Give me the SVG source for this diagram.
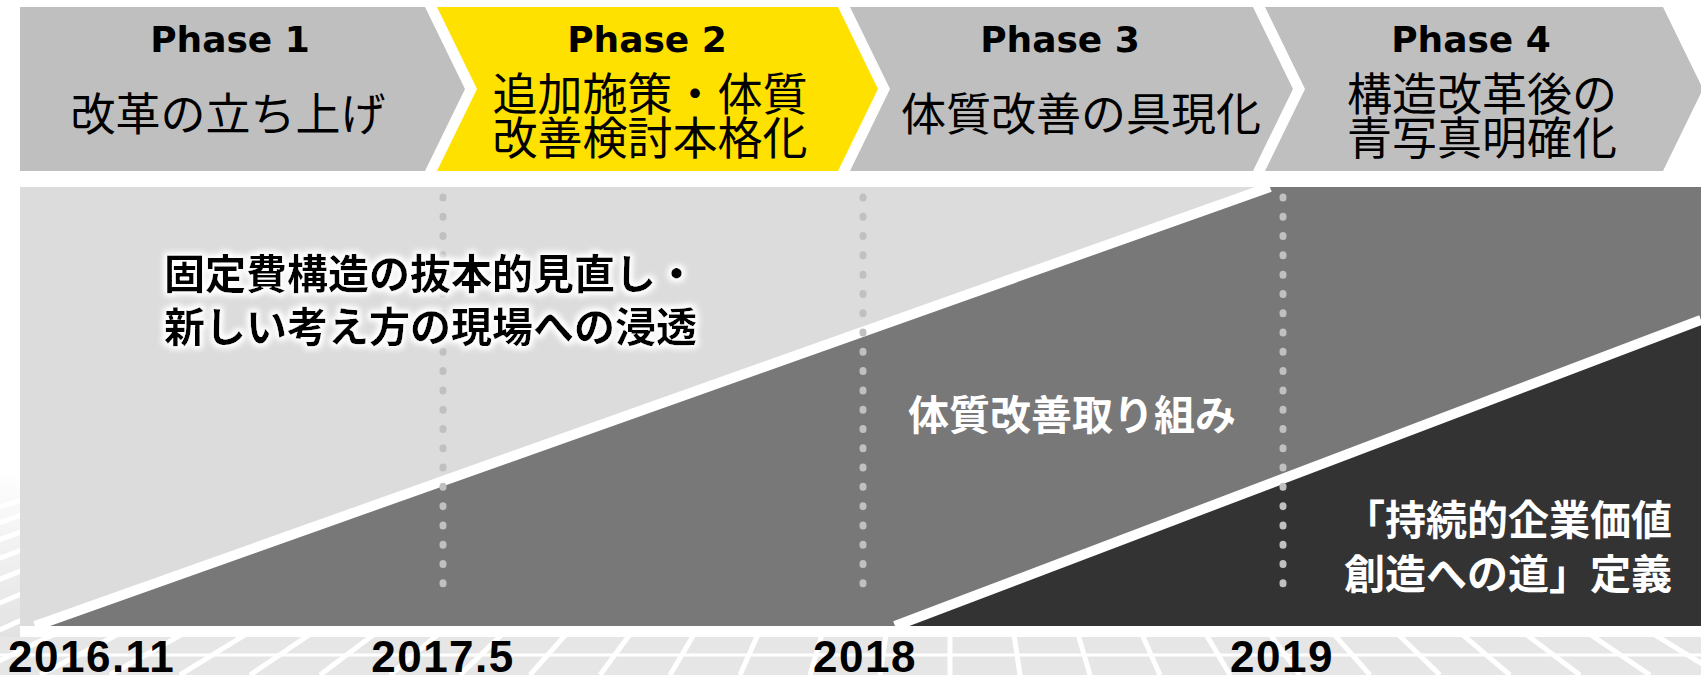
<svg xmlns="http://www.w3.org/2000/svg" width="1701" height="675" viewBox="0 0 1701 675">
<style>
.chev{fill:#bfbfbf}
.chev-hl{fill:#ffe100}
.ph{font-family:"DejaVu Sans",Verdana,sans-serif;font-weight:bold;font-size:36px;fill:#000;text-anchor:middle}
.jp{font-family:"Noto Sans CJK JP","Noto Sans CJK SC",sans-serif;font-size:45px;fill:#000;text-anchor:middle}
.bj{font-family:"Noto Sans CJK JP","Noto Sans CJK SC",sans-serif;font-weight:bold;font-size:41px}
.yr{font-family:"Liberation Sans",Arial,sans-serif;font-weight:bold;font-size:44px;fill:#000;letter-spacing:1.5px}
.dots{stroke:#c0c0c0;stroke-width:7;stroke-linecap:round;stroke-dasharray:1 18.29;fill:none}
.stripe{stroke:#fff;stroke-width:10;fill:none}
.floorline{stroke:#fff;stroke-width:5;fill:none}
</style>
<defs>
<filter id="glow" x="-10%" y="-40%" width="120%" height="180%">
<feMorphology in="SourceAlpha" operator="dilate" radius="2" result="d"/>
<feGaussianBlur in="d" stdDeviation="3" result="b"/>
<feFlood flood-color="#ffffff"/>
<feComposite in2="b" operator="in" result="g"/>
<feMerge><feMergeNode in="g"/><feMergeNode in="g"/><feMergeNode in="SourceGraphic"/></feMerge>
</filter>
<linearGradient id="leftfade" x1="0" y1="0" x2="0" y2="1">
<stop offset="0" stop-color="#ffffff"/>
<stop offset="1" stop-color="#e2e2e2"/>
</linearGradient>
<clipPath id="floorclip">
<rect x="0" y="637" width="1701" height="38"/>
<rect x="0" y="470" width="20" height="167"/>
</clipPath>
</defs>
<rect x="0" y="0" width="1701" height="675" fill="#ffffff"/>
<!-- decorative floor -->
<g id="floor" clip-path="url(#floorclip)">
<rect x="0" y="637" width="1701" height="38" fill="#e6e6e6"/>
<rect x="0" y="470" width="20" height="167" fill="url(#leftfade)"/>
<g class="floorline">
<line x1="950" y1="200" x2="-520" y2="675"/>
<line x1="950" y1="200" x2="-450" y2="675"/>
<line x1="950" y1="200" x2="-380" y2="675"/>
<line x1="950" y1="200" x2="-310" y2="675"/>
<line x1="950" y1="200" x2="-240" y2="675"/>
<line x1="950" y1="200" x2="-170" y2="675"/>
<line x1="950" y1="200" x2="-100" y2="675"/>
<line x1="950" y1="200" x2="-30" y2="675"/>
<line x1="950" y1="200" x2="40" y2="675"/>
<line x1="950" y1="200" x2="110" y2="675"/>
<line x1="950" y1="200" x2="180" y2="675"/>
<line x1="950" y1="200" x2="250" y2="675"/>
<line x1="950" y1="200" x2="320" y2="675"/>
<line x1="950" y1="200" x2="390" y2="675"/>
<line x1="950" y1="200" x2="460" y2="675"/>
<line x1="950" y1="200" x2="530" y2="675"/>
<line x1="950" y1="200" x2="600" y2="675"/>
<line x1="950" y1="200" x2="670" y2="675"/>
<line x1="950" y1="200" x2="740" y2="675"/>
<line x1="950" y1="200" x2="810" y2="675"/>
<line x1="950" y1="200" x2="880" y2="675"/>
<line x1="950" y1="200" x2="950" y2="675"/>
<line x1="950" y1="200" x2="1020" y2="675"/>
<line x1="950" y1="200" x2="1090" y2="675"/>
<line x1="950" y1="200" x2="1160" y2="675"/>
<line x1="950" y1="200" x2="1230" y2="675"/>
<line x1="950" y1="200" x2="1300" y2="675"/>
<line x1="950" y1="200" x2="1370" y2="675"/>
<line x1="950" y1="200" x2="1440" y2="675"/>
<line x1="950" y1="200" x2="1510" y2="675"/>
<line x1="950" y1="200" x2="1580" y2="675"/>
<line x1="950" y1="200" x2="1650" y2="675"/>
<line x1="950" y1="200" x2="1720" y2="675"/>
<line x1="950" y1="200" x2="1790" y2="675"/>
</g>
<line x1="0" y1="655" x2="1701" y2="655" stroke="#fff" stroke-width="3"/>
</g>
<!-- phase chevrons -->
<g id="phase1">
<polygon class="chev" points="20,7 425,7 465,89 425,171 20,171"/>
<text class="ph" x="230" y="52">Phase 1</text>
<text class="jp" x="228" y="131">改革の立ち上げ</text>
</g>
<g id="phase2">
<polygon class="chev-hl" points="437,7 838,7 878,89 838,171 437,171 477,89"/>
<text class="ph" x="647" y="52">Phase 2</text>
<text class="jp" x="650" y="111">追加施策・体質</text>
<text class="jp" x="650" y="155">改善検討本格化</text>
</g>
<g id="phase3">
<polygon class="chev" points="850,7 1253,7 1293,89 1253,171 850,171 890,89"/>
<text class="ph" x="1060" y="52">Phase 3</text>
<text class="jp" x="1081" y="131">体質改善の具現化</text>
</g>
<g id="phase4">
<polygon class="chev" points="1265,7 1663,7 1703,89 1663,171 1265,171 1305,89"/>
<text class="ph" x="1471" y="52">Phase 4</text>
<text class="jp" x="1482" y="111">構造改革後の</text>
<text class="jp" x="1482" y="155">青写真明確化</text>
</g>
<!-- main panel bands -->
<g id="bands">
<rect x="20" y="187" width="1681" height="439" fill="#dcdcdc"/>
<polygon points="35,626 1270,187 1701,187 1701,626" fill="#787878"/>
<polygon points="895,626 1701,320 1701,626" fill="#333333"/>
<line class="stripe" x1="35" y1="626" x2="1270" y2="187"/>
<line class="stripe" x1="895" y1="626" x2="1701" y2="320"/>
</g>
<g id="gridlines">
<line class="dots" x1="443" y1="197" x2="443" y2="602"/>
<line class="dots" x1="863" y1="197" x2="863" y2="602"/>
<line class="dots" x1="1283" y1="197" x2="1283" y2="602"/>
</g>
<g id="label-fixedcost" filter="url(#glow)">
<text class="bj" x="164" y="289" fill="#000">固定費構造の抜本的見直し・</text>
<text class="bj" x="164" y="342" fill="#000">新しい考え方の現場への浸透</text>
</g>
<g id="label-taishitsu">
<text class="bj" x="1072" y="430" fill="#fff" text-anchor="middle">体質改善取り組み</text>
</g>
<g id="label-value">
<text class="bj" x="1672" y="535" fill="#fff" text-anchor="end">「持続的企業価値</text>
<text class="bj" x="1672" y="589" fill="#fff" text-anchor="end">創造への道」定義</text>
</g>
<g id="years">
<text class="yr" x="8" y="672">2016.11</text>
<text class="yr" x="443" y="672" text-anchor="middle">2017.5</text>
<text class="yr" x="865" y="672" text-anchor="middle">2018</text>
<text class="yr" x="1282" y="672" text-anchor="middle">2019</text>
</g>
</svg>
